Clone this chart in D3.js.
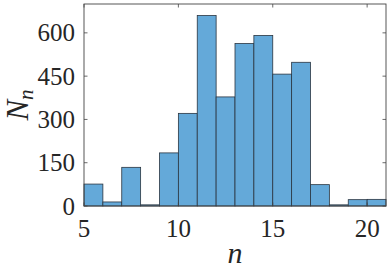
<!DOCTYPE html>
<html><head><meta charset="utf-8">
<script src="https://cdn.jsdelivr.net/npm/d3@7"></script>
</head>
<body style="margin:0">
<script>
const binEdges = [5,6,7,8,9,10,11,12,13,14,15,16,17,18,19,20,21];
const counts = [76,14,134,4,184,321,660,378,563,591,457,498,74,4,22,23];
const xTicks = [5,10,15,20];
const yTicks = [0,150,300,450,600];

const W = 391, H = 270;
const m = {left:84, top:4, right:5, bottom:64};
const FF = "Times New Roman";
const svg = d3.select("body").append("svg").attr("width",W).attr("height",H)
  .style("display","block");
const x = d3.scaleLinear().domain([5,21]).range([m.left, W-m.right]);
const y = d3.scaleLinear().domain([0,700]).range([H-m.bottom, m.top]);

const bins = counts.map((c,i)=>({x0:binEdges[i], x1:binEdges[i+1], v:c}));
svg.append("g").selectAll("rect").data(bins).join("rect")
  .attr("x", d=>x(d.x0)).attr("width", d=>x(d.x1)-x(d.x0))
  .attr("y", d=>y(d.v)).attr("height", d=>y(0)-y(d.v))
  .attr("fill","#64a9d9").attr("stroke","#2a3540").attr("stroke-width",0.8);

const axCol = "#444";
const x0 = m.left, x1 = W-m.right, y0 = H-m.bottom, y1 = m.top;
svg.append("rect").attr("x",x0).attr("y",y1).attr("width",x1-x0).attr("height",y0-y1)
  .attr("fill","none").attr("stroke",axCol).attr("stroke-width",0.9);
const tl = 3.5;
const tg = svg.append("g").attr("stroke",axCol).attr("stroke-width",0.8);
xTicks.forEach(t=>{
  tg.append("line").attr("x1",x(t)).attr("x2",x(t)).attr("y1",y0).attr("y2",y0-tl);
  tg.append("line").attr("x1",x(t)).attr("x2",x(t)).attr("y1",y1).attr("y2",y1+tl);
});
yTicks.forEach(t=>{
  tg.append("line").attr("y1",y(t)).attr("y2",y(t)).attr("x1",x0).attr("x2",x0+tl);
  tg.append("line").attr("y1",y(t)).attr("y2",y(t)).attr("x1",x1).attr("x2",x1-tl);
});
xTicks.forEach(t=>{
  svg.append("text").attr("x",x(t)).attr("y",y0+31).attr("text-anchor","middle")
    .style("font-family",FF).style("font-size","25px").style("fill","#262626").text(String(t));
});
yTicks.forEach(t=>{
  svg.append("text").attr("x",x0-9).attr("y",y(t)+8.5).attr("text-anchor","end")
    .style("font-family",FF).style("font-size","25px").style("fill","#262626").text(String(t));
});
svg.append("text").attr("x",(x0+x1)/2).attr("y",263).attr("text-anchor","middle")
  .style("font-family",FF).style("font-style","italic").style("font-size","30px")
  .style("fill","#262626").text("n");
const yl = svg.append("text").attr("transform",`translate(28,${(y0+y1)/2}) rotate(-90)`)
  .attr("text-anchor","middle").style("font-family",FF).style("font-style","italic")
  .style("font-size","31px").style("fill","#262626");
yl.append("tspan").text("N");
yl.append("tspan").style("font-size","21px").attr("dy",5).text("n");
</script>
</body></html>
